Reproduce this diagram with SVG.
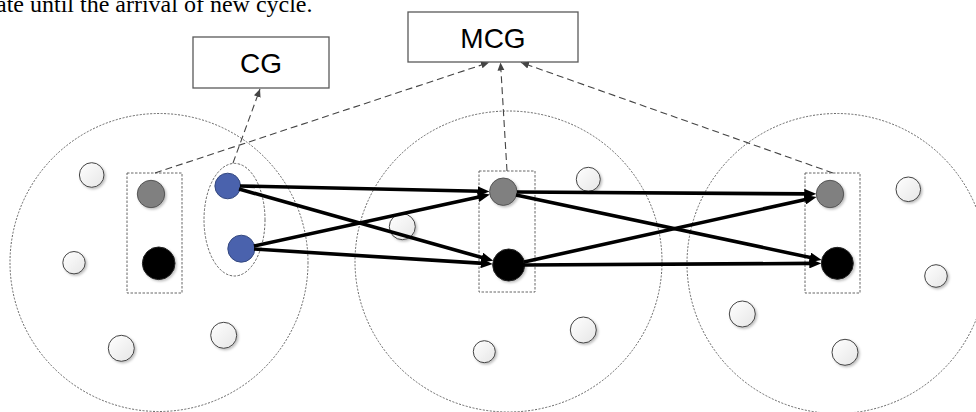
<svg xmlns="http://www.w3.org/2000/svg" width="976" height="412" viewBox="0 0 976 412">
<style>
  .cluster { fill: none; stroke: #555; stroke-width: 0.9; stroke-dasharray: 2 1.5; }
  .grp { fill: none; stroke: #555; stroke-width: 0.9; stroke-dasharray: 2.5 1.5; }
  .box { fill: #fff; stroke: #595959; stroke-width: 1.3; }
  .lbl { font-family: "Liberation Sans", Arial, sans-serif; font-size: 28px; fill: #000; text-anchor: middle; }
  .caption { font-family: "Liberation Serif", "Times New Roman", serif; font-size: 24px; fill: #000; }
  .white { fill: url(#wg); stroke: #444; stroke-width: 1; filter: url(#sh); }
  .gray { fill: #808080; stroke: #555; stroke-width: 1; filter: url(#sh); }
  .black { fill: #000; stroke: #222; stroke-width: 1; filter: url(#sh); }
  .blue { fill: #4a62ad; stroke: #34487f; stroke-width: 1; }
  .thick { stroke: #000; stroke-width: 3.6; fill: none; marker-end: url(#ah); }
  .dash { stroke: #444; stroke-width: 1.1; fill: none; stroke-dasharray: 7 4; marker-end: url(#dh); }
</style>
<defs>
  <linearGradient id="wg" x1="0" y1="0" x2="1" y2="1">
    <stop offset="0" stop-color="#ffffff"/>
    <stop offset="1" stop-color="#e6e6e6"/>
  </linearGradient>
  <filter id="sh" x="-30%" y="-30%" width="170%" height="170%">
    <feDropShadow dx="1.5" dy="1.5" stdDeviation="1" flood-color="#000" flood-opacity="0.25"/>
  </filter>
  <marker id="ah" viewBox="0 0 12 10" refX="3" refY="5" markerWidth="12" markerHeight="10" markerUnits="userSpaceOnUse" orient="auto">
    <path d="M0,0 L12,5 L0,10 z" fill="#000"/>
  </marker>
  <marker id="dh" viewBox="0 0 8 8" refX="8" refY="4" markerWidth="8" markerHeight="8" markerUnits="userSpaceOnUse" orient="auto">
    <path d="M0,0.5 L8,4 L0,7.5 z" fill="#444"/>
  </marker>
</defs>

<text class="caption" x="-4" y="12">ate until the arrival of new cycle.</text>

<g id="cluster-left">
  <circle class="cluster" cx="159" cy="262.5" r="149"/>
</g>
<g id="cluster-mid">
  <ellipse class="cluster" cx="508.5" cy="261.5" rx="153.5" ry="150.5"/>
</g>
<g id="cluster-right">
  <circle class="cluster" cx="837" cy="263.5" r="150"/>
</g>

<g id="CG">
  <rect class="box" x="193" y="37" width="136" height="51"/>
  <text class="lbl" x="261" y="73">CG</text>
</g>
<g id="MCG">
  <rect class="box" x="408" y="12" width="170" height="50"/>
  <text class="lbl" x="493" y="48">MCG</text>
</g>

<g id="group-left">
  <rect class="grp" x="127" y="173" width="55" height="120"/>
  <circle class="gray" cx="151" cy="194" r="13.7"/>
  <circle class="black" cx="158.7" cy="263.3" r="16.3"/>
</g>
<g id="group-cg">
  <ellipse class="grp" cx="234.5" cy="219.7" rx="30.5" ry="56.3"/>
  <circle class="blue" cx="227.7" cy="186" r="12.8"/>
  <circle class="blue" cx="241.3" cy="248.7" r="13.5"/>
</g>
<g id="group-mid">
  <rect class="grp" x="479" y="171" width="56" height="121"/>
  <circle class="gray" cx="503.3" cy="191.7" r="13.7"/>
  <circle class="black" cx="508.7" cy="265" r="16"/>
</g>
<g id="group-right">
  <rect class="grp" x="805" y="173" width="55" height="120"/>
  <circle class="gray" cx="830" cy="194" r="13.7"/>
  <circle class="black" cx="837.3" cy="263.3" r="16"/>
</g>

<g id="other-nodes">
  <circle class="white" cx="91.7" cy="175" r="12.3"/>
  <circle class="white" cx="74" cy="262.7" r="11.2"/>
  <circle class="white" cx="121.3" cy="348.3" r="13"/>
  <circle class="white" cx="223.7" cy="335.3" r="13"/>
  <circle class="white" cx="588.3" cy="179.3" r="12"/>
  <circle class="white" cx="402.3" cy="226.7" r="13"/>
  <circle class="white" cx="583.3" cy="330" r="13"/>
  <circle class="white" cx="484.3" cy="351.7" r="11"/>
  <circle class="white" cx="908.3" cy="189.3" r="12.3"/>
  <circle class="white" cx="936" cy="276" r="11.3"/>
  <circle class="white" cx="742.3" cy="314" r="13"/>
  <circle class="white" cx="845" cy="352.3" r="13"/>
</g>

<g id="connectors">
  <line class="dash" x1="233" y1="163" x2="260" y2="89"/>
  <line class="dash" x1="155" y1="173" x2="489" y2="62.5"/>
  <line class="dash" x1="507" y1="171" x2="500.5" y2="62.5"/>
  <line class="dash" x1="833" y1="173" x2="521" y2="62.5"/>

  <line class="thick" x1="240" y1="186" x2="480.5" y2="191.3"/>
  <line class="thick" x1="239" y1="189" x2="484.6" y2="258.3"/>
  <line class="thick" x1="254" y1="246" x2="481.1" y2="196.5"/>
  <line class="thick" x1="254" y1="249" x2="483.7" y2="263.4"/>
  <line class="thick" x1="517" y1="192" x2="807.3" y2="193.9"/>
  <line class="thick" x1="516" y1="195" x2="812.9" y2="258.1"/>
  <line class="thick" x1="524" y1="262" x2="807.8" y2="199"/>
  <line class="thick" x1="524" y1="265" x2="812.3" y2="263.4"/>
</g>
</svg>
